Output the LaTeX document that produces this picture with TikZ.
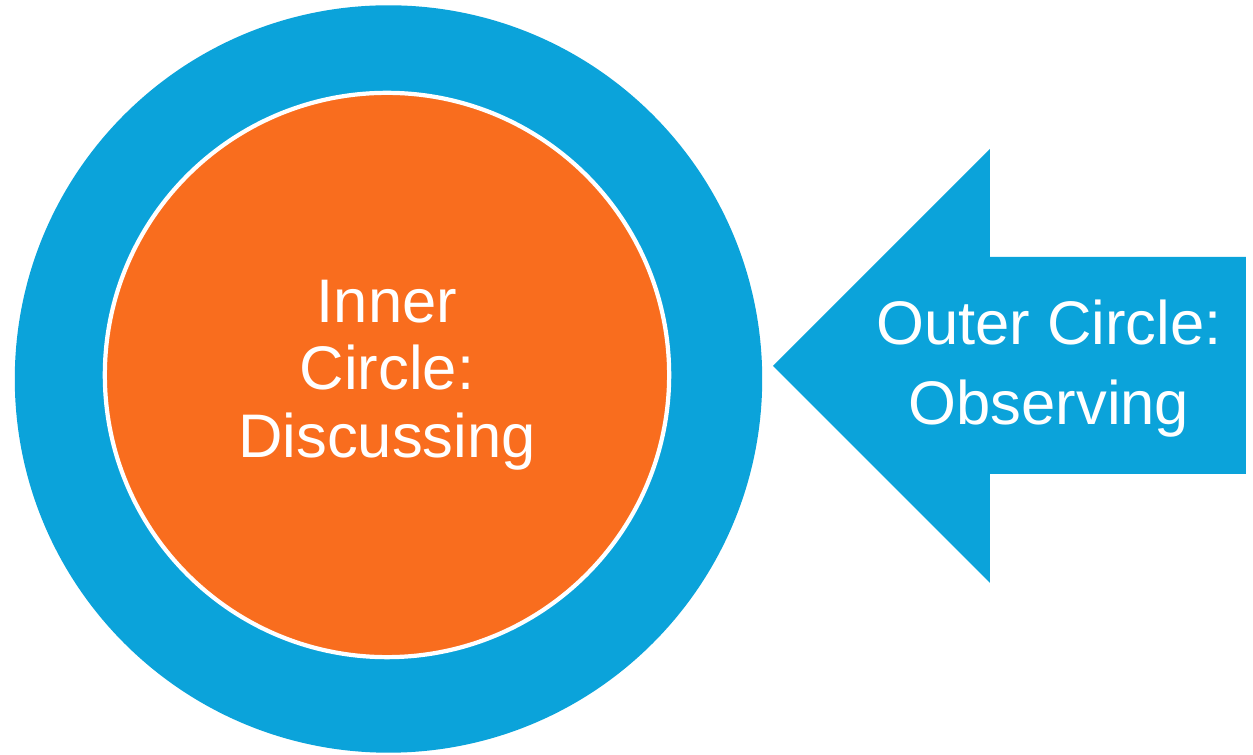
\documentclass[tikz,border=0pt]{standalone}
\usepackage{fontspec}
\setmainfont{Liberation Sans}
\usetikzlibrary{positioning}
\definecolor{ringblue}{RGB}{11, 163, 218}
\definecolor{coreorange}{RGB}{249, 109, 30}

\begin{document}
\begin{tikzpicture}[x=0.01cm, y=-0.01cm,
    ring/.style={circle, fill=ringblue, inner sep=0pt, minimum size=7.47cm},
    core/.style={circle, fill=coreorange, draw=white, line width=1.2pt, inner sep=0pt,
                 minimum size=5.64cm, text=white, align=center,
                 font=\fontsize{17.5}{19.2}\selectfont},
    label/.style={text=white, align=center, font=\fontsize{17.5}{22.8}\selectfont}]
    \useasboundingbox (0, 0) rectangle (1253, 755);

    % Circles
    \node[ring] (outer) at (388.5, 379) {};
    \node[core] (inner) at (387, 375) {Inner\\Circle:\\Discussing};

    % Arrow pointing at the ring
    \fill[ringblue] (773, 366) -- (990, 149) -- (990, 257) -- (1246, 257)
        -- (1246, 474) -- (990, 474) -- (990, 583) -- cycle;
    \node[label] (watch) at (1049, 369) {Outer Circle:\\Observing};
\end{tikzpicture}
\end{document}
